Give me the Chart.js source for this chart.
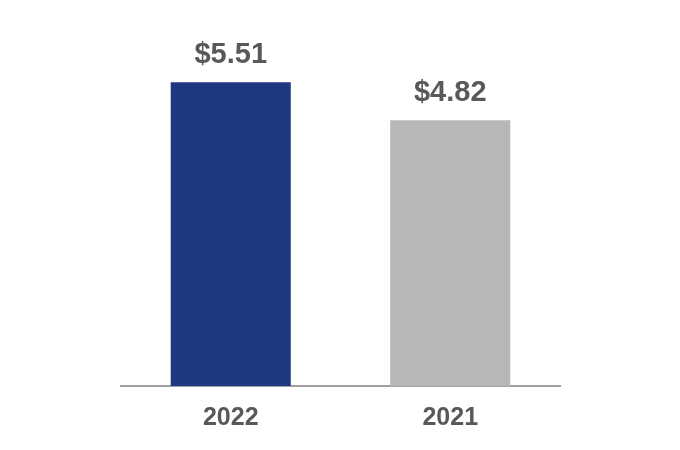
<!DOCTYPE html>
<html lang="en">
<head>
    <meta charset="UTF-8">
    <title>EPS</title>
    <style>
        html, body { margin: 0; padding: 0; background: #fff; }
        #wrap { width: 680px; height: 450px; }
    </style>
</head>
<body>
<div id="wrap"><canvas id="epsChart"></canvas></div>

<script src="https://cdn.jsdelivr.net/npm/chart.js"></script>
<script>
// Chart data
const years = ['2022', '2021'];
const values = [5.51, 4.82];
const barColors = ['#1F3882', '#B7B7B7'];

// Small plugin to print the dollar value above each bar
const valueLabels = {
    id: 'valueLabels',
    afterDatasetsDraw(chart) {
        const ctx = chart.ctx;
        const meta = chart.getDatasetMeta(0);
        ctx.save();
        ctx.font = 'bold 29px "Liberation Sans", Arial, sans-serif';
        ctx.fillStyle = '#595959';
        ctx.textAlign = 'center';
        ctx.textBaseline = 'middle';
        meta.data.forEach((bar, i) => {
            ctx.fillText('$' + values[i].toFixed(2), bar.x, bar.y - 27);
        });
        ctx.restore();
    }
};

new Chart(document.getElementById('epsChart'), {
    type: 'bar',
    data: {
        labels: years,
        datasets: [{
            data: values,
            backgroundColor: barColors,
            barPercentage: 0.547,
            categoryPercentage: 1.0
        }]
    },
    options: {
        responsive: true,
        maintainAspectRatio: false,
        animation: false,
        layout: { padding: { left: 121, right: 120, top: 0, bottom: 0 } },
        plugins: {
            legend: { display: false },
            tooltip: { enabled: false }
        },
        scales: {
            x: {
                grid: { display: false, drawTicks: false },
                border: { display: true, color: '#A0A0A0', width: 2 },
                ticks: {
                    color: '#595959',
                    padding: 17,
                    font: { family: '"Liberation Sans", Arial, sans-serif', size: 25, weight: 'bold' }
                }
            },
            y: {
                display: false,
                min: 0,
                max: 7
            }
        }
    },
    plugins: [valueLabels]
});
</script>
</body>
</html>
